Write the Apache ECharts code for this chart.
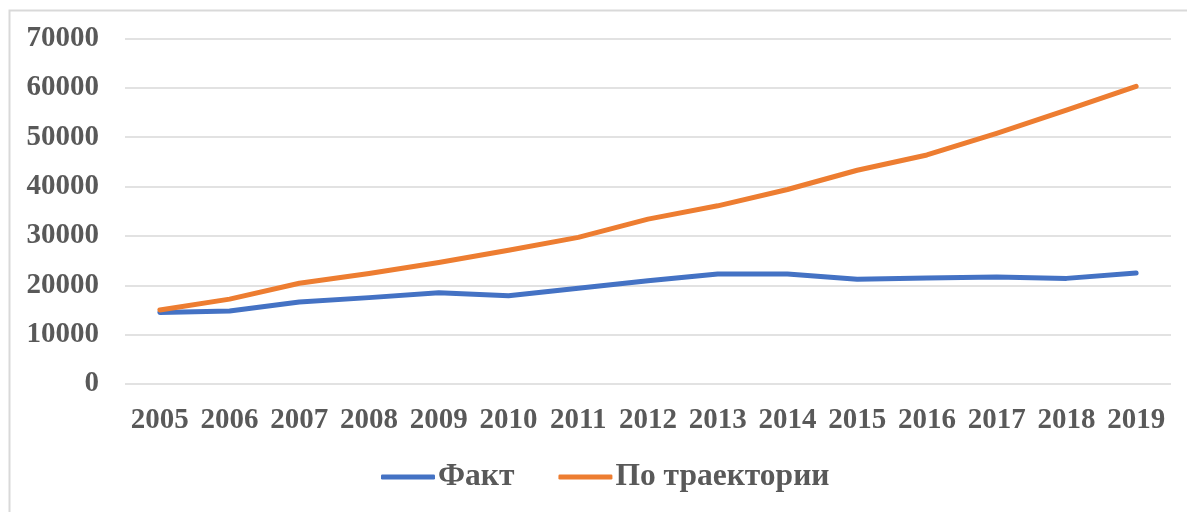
<!DOCTYPE html>
<html>
<head>
<meta charset="utf-8">
<script src="https://cdn.jsdelivr.net/npm/echarts@6/dist/echarts.min.js"></script>
<style>
html,body{margin:0;padding:0;background:#fff;}
#chart{width:1187px;height:512px;}
</style>
</head>
<body>
<div id="chart"></div>
<script>
const years = ['2005','2006','2007','2008','2009','2010','2011','2012','2013','2014','2015','2016','2017','2018','2019'];
const fact = [14500,14800,16600,17500,18500,17900,19400,20900,22300,22300,21200,21500,21700,21400,22500];
const trajectory = [15000,17200,20400,22400,24600,27100,29700,33400,36100,39400,43300,46400,50800,55500,60300];
const seriesNames = ['Факт','По траектории'];

const FONT = "'Liberation Serif','Times New Roman',serif";
const TXT = '#595959';
const chart = echarts.init(document.getElementById('chart'), null, {renderer:'canvas'});
chart.setOption({
  backgroundColor:'#ffffff',
  animation:false,
  graphic:[{
    type:'polyline',
    shape:{points:[[9.5,520],[9.5,10.5],[1200,10.5]]},
    style:{stroke:'#d9d9d9',lineWidth:2,fill:null},
    silent:true
  }],
  grid:{left:125,right:16,top:38.5,bottom:128,containLabel:false},
  legend:{
    left:381, top:461, padding:0,
    itemWidth:54, itemHeight:5, itemGap:44,
    icon:'roundRect',
    data:seriesNames,
    textStyle:{fontFamily:FONT,fontWeight:'bold',fontSize:31.5,color:TXT,padding:[0,0,0,-2]}
  },
  xAxis:{
    type:'category',
    data:years,
    boundaryGap:true,
    axisLine:{show:false},
    axisTick:{show:false},
    axisLabel:{fontFamily:FONT,fontWeight:'bold',fontSize:29,color:TXT,margin:22,interval:0}
  },
  yAxis:{
    type:'value',
    min:0,max:70000,interval:10000,
    axisLine:{show:false},
    axisTick:{show:false},
    splitLine:{lineStyle:{color:'#d9d9d9',width:1.5}},
    axisLabel:{fontFamily:FONT,fontWeight:'bold',fontSize:29,color:TXT,margin:26,
      formatter:function(v){return String(v);}}
  },
  series:[
    {name:seriesNames[0],type:'line',data:fact,symbol:'none',
     itemStyle:{color:'#4472C4'},
     lineStyle:{color:'#4472C4',width:5,cap:'round',join:'round'}},
    {name:seriesNames[1],type:'line',data:trajectory,symbol:'none',
     itemStyle:{color:'#ED7D31'},
     lineStyle:{color:'#ED7D31',width:5,cap:'round',join:'round'}}
  ]
});
</script>
</body>
</html>
